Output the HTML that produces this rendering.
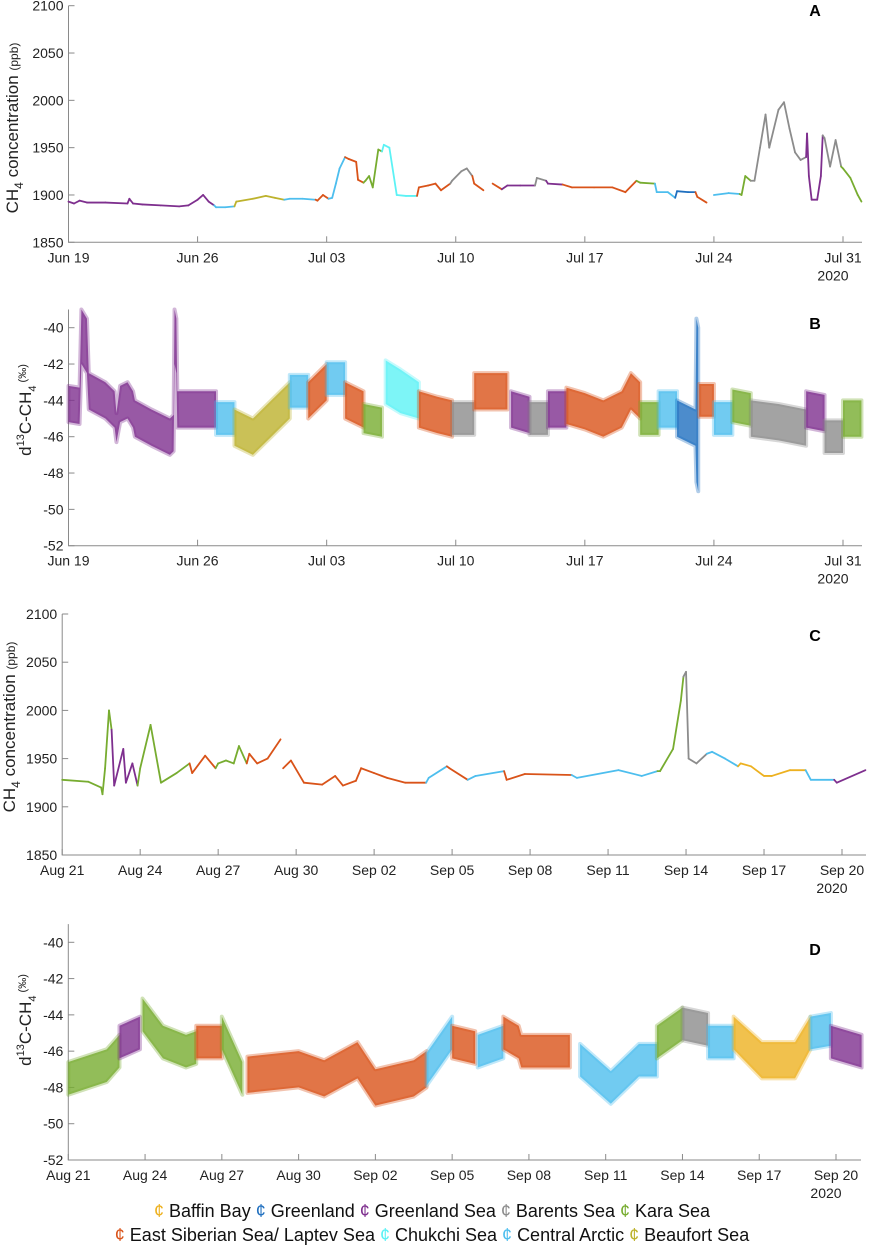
<!DOCTYPE html>
<html><head><meta charset="utf-8"><style>
body{margin:0;background:#fff;}
svg{display:block;font-family:"Liberation Sans",sans-serif;}
</style></head><body>
<svg id="c" width="870" height="1245" viewBox="0 0 870 1245">
<g><text transform="translate(18,128) rotate(-90)" text-anchor="middle" font-size="17" fill="#222">CH<tspan font-size="12" dy="5">4</tspan><tspan dy="-5"> concentration </tspan><tspan font-size="12">(ppb)</tspan></text></g>
<g><text transform="translate(31,410) rotate(-90)" text-anchor="middle" font-size="17" fill="#222">d<tspan font-size="11" dy="-7">13</tspan><tspan dy="7">C-CH</tspan><tspan font-size="11" dy="5">4</tspan><tspan font-size="11" dy="-10"> (‰)</tspan></text></g>
<g><text transform="translate(15,727) rotate(-90)" text-anchor="middle" font-size="17" fill="#222">CH<tspan font-size="12" dy="5">4</tspan><tspan dy="-5"> concentration </tspan><tspan font-size="12">(ppb)</tspan></text></g>
<g><text transform="translate(31,1020) rotate(-90)" text-anchor="middle" font-size="17" fill="#222">d<tspan font-size="11" dy="-7">13</tspan><tspan dy="7">C-CH</tspan><tspan font-size="11" dy="5">4</tspan><tspan font-size="11" dy="-10">    (‰)</tspan></text></g>
</svg>
<script>
const regionNames=["Baffin Bay","Greenland","Greenland Sea","Barents Sea","Kara Sea","East Siberian Sea/ Laptev Sea","Chukchi Sea","Central Arctic","Beaufort Sea"];
const regionColors=["#EDB120","#1F6FBF","#7E2F8E","#8C8C8C","#77AC30","#D95319","#5CF2F5","#4DBEEE","#BDB22D"];

// Panel A: CH4 ppb (days since Jun 19)
const aT=[0,0.3,0.6,1,2,3.2,3.3,3.5,4,5,6,6.5,7,7.3,7.6,7.9, 8.0,8.5,9.0, 9.1,10,10.7,11.2,11.7, 12,12.7,13.4, 13.5,13.8,14.1, 14.3,14.5,14.7,15, 15.2,15.6,15.7,16, 16.1,16.3,16.5,16.8,17.0, 17.1,17.4,17.8,18.3,18.9, 19.0,19.5,19.9,20.2,20.7, 20.8,21.3,21.6,21.9, 22.0,22.5, null, 23.0,23.5, 23.8,24.5,25.3, 25.4,25.9, 26.0,26.8, 27.3,28.5,29.5,30.2,30.8, 31.0,31.8, 31.9,32.5,32.9, 33.0,33.6,34.0, 34.1,34.6, null, 35.0,35.8,36.4, 36.5,36.7,37.0, 37.2,37.5,37.8,38.0,38.5,38.8,39.1,39.4,39.7,40.0, 40.05,40.15,40.3,40.6,40.8,40.9, 41.0,41.3,41.6,41.9, 42.0,42.4,42.8,43.0];
const aV=[1893,1891,1894,1892,1892,1891,1896,1891,1890,1889,1888,1889,1895,1900,1893,1889, 1887,1887,1888, 1893,1896,1899,1897,1895, 1896,1896,1895, 1894,1900,1896, 1897,1912,1928,1940, 1938,1935,1916,1913, 1915,1920,1908,1948,1946, 1953,1950,1900,1899,1899, 1908,1910,1912,1905,1912, 1915,1925,1928,1920, 1912,1905, null, 1912,1906, 1910,1910,1910, 1918,1915, 1912,1911, 1908,1908,1908,1903,1915, 1913,1912, 1903,1903,1897, 1904,1903,1903, 1898,1892, null, 1900,1902,1901, 1900,1920,1915, 1915,1950,1985,1950,1990,1998,1970,1945,1937,1940, 1965,1920,1895,1895,1920,1963, 1960,1930,1958,1930, 1928,1918,1900,1893];
const aR=[2,2,2,2,2,2,2,2,2,2,2,2,2,2,2,2, 7,7,7, 8,8,8,8,8, 7,7,7, 5,5,5, 7,7,7,7, 5,5,5,5, 4,4,4,4,4, 6,6,6,6,6, 5,5,5,5,5, 3,3,3,3, 5,5, 5, 5,5, 2,2,2, 3,3, 2,2, 5,5,5,5,5, 4,4, 7,7,7, 1,1,1, 5,5, 5, 7,7,7, 4,4,4, 3,3,3,3,3,3,3,3,3,3, 2,2,2,2,2,2, 3,3,3,3, 4,4,4,4];

// Panel B: d13C (mean, half-spread)
const bT=[0,0.6, 0.7,1.0, 1.1,2.0,2.5,2.6,2.8,3.2,3.5, 3.6,4.5,5.5,5.7, 5.75,5.85, 5.9,7,8, 8.0,9.0, 9.0,10,11,12, 12,13, 13,14, 14,15, 15,16, 16,17, 17.2,18,19, 19,20,20.8, 20.8,22, 22,23.8, 24,25, 25,26, 26,27, 27,28,29,30,30.5,31, 31,32, 32,33, 33,34, 34.05,34.15, 34.2,35, 35,36, 36,37, 37,38.5,40, 40,41, 41,42, 42,43];
const bV=[-44.2,-44.3, -40.5,-41, -43.5,-44,-44.5,-45.5,-44.2,-44,-44.5, -45,-45.5,-46,-45.8, -40.5,-41, -44.5,-44.5,-44.5, -45,-45, -45.5,-46,-45,-44, -43.5,-43.5, -44,-43, -42.8,-42.8, -44,-44.5, -45,-45.2, -43,-43.5,-44, -44.5,-44.8,-45, -45,-45, -43.5,-43.5, -44.5,-44.8, -45,-45, -44.5,-44.5, -44.3,-44.6,-45,-44.5,-43.5,-44, -45,-45, -44.5,-44.5, -45,-45.5, -44,-44.5, -44,-44, -45,-45, -44.3,-44.5, -45,-45.2,-45.5, -44.5,-44.7, -46,-46, -45,-45];
const bS=[1,1, 1.5,1.5, 1,1,1,0.8,1,1,1, 1,1,1,1, 1.5,1.5, 1,1,1, 0.9,0.9, 1,1,1,1, 0.9,0.9, 1,1, 0.9,0.9, 1,1, 0.8,0.8, 1.2,1.2,1, 1,1,1, 0.9,0.9, 1,1, 1,1, 0.9,0.9, 1,1, 1,1,1,1,1,1, 0.9,0.9, 1,1, 1,1, 4.5,4.5, 0.9,0.9, 0.9,0.9, 0.9,0.9, 1,1,1, 1,1, 0.9,0.9, 1,1];
const bR=[2,2, 2,2, 2,2,2,2,2,2,2, 2,2,2,2, 2,2, 2,2,2, 7,7, 8,8,8,8, 7,7, 5,5, 7,7, 5,5, 4,4, 6,6,6, 5,5,5, 3,3, 5,5, 2,2, 3,3, 2,2, 5,5,5,5,5,5, 4,4, 7,7, 1,1, 1,1, 5,5, 7,7, 4,4, 3,3,3, 2,2, 3,3, 4,4];

// Panel C: CH4 ppb (days since Aug 21)
const cT=[0,1,1.5,1.55,1.65,1.8,1.9, 2.0,2.35,2.45,2.7,2.9, 3.0,3.4,3.8,4.4,4.9, 5.0,5.5,5.9, 6.0,6.3,6.6,6.8,7.1, 7.2,7.5,7.9,8.4, null, 8.5,8.8,9.3,10.0,10.5,10.8,11.3, 11.5,12,12.5,13.2,14.0, 14.1,14.8, 14.9,15.6, 15.9,17.0, 17.1,17.8,19.6, 19.8,21.4,22.3,22.9, 23.0,23.5,23.8,23.9, 24.0,24.1,24.4,24.8, 25.0,25.5,26.0, 26.1,26.5,27.0,27.3,28.0,28.6, 28.8,29.7, 29.8,30.9];
const cV=[1928,1926,1920,1913,1940,2000,1980, 1922,1960,1925,1945,1922, 1940,1985,1925,1935,1945, 1935,1953,1940, 1945,1948,1945,1963,1945, 1955,1945,1950,1970, null, 1940,1948,1925,1923,1932,1922,1927, 1940,1935,1930,1925,1925, 1930,1942, 1940,1928, 1932,1937, 1928,1934,1933, 1930,1938,1932,1937, 1937,1960,2010,2035, 2040,1950,1945,1955, 1957,1950,1942, 1945,1942,1932,1932,1938,1938, 1928,1928, 1925,1938];
const cR=[4,4,4,4,4,4,4, 2,2,2,2,2, 4,4,4,4,4, 5,5,5, 4,4,4,4,4, 5,5,5,5, 5, 5,5,5,5,5,5,5, 5,5,5,5,5, 7,7, 5,5, 7,7, 5,5,5, 7,7,7,7, 4,4,4,4, 3,3,3,3, 7,7,7, 0,0,0,0,0,0, 7,7, 2,2];

// Panel D: d13C (days since Aug 21)
const dT=[0,1.5,2.0, 2.0,2.8, 2.9,3.7,4.6,5.0, 5.0,6.0, 6.0,6.8, 7.0,9.0,10.0,11.3,12.0,13.5,14.0, 14.0,15.0, 15.0,15.9, 16.0,17.0, 17.0,17.6, 17.7,19.6, 20.0,21.2,22.3,23.0, 23.0,24.0, 24.0,25.0, 25.0,26.0, 26.0,27.1,28.4,29.0, 29.0,29.8, 29.8,31.0];
const dV=[-47.5,-46.8,-46, -45.5,-45, -44,-45.5,-46,-45.8, -45.5,-45.5, -45,-47.5, -47.3,-47,-47.5,-46.5,-48,-47.5,-47, -47,-45, -45.5,-45.8, -46,-45.5, -45,-45.5, -46,-46, -46.5,-48,-46.5,-46.5, -45.5,-44.5, -44.5,-44.8, -45.5,-45.5, -45,-46.5,-46.5,-45, -45,-44.8, -45.5,-46];
const dS=[0.9,0.9,0.9, 0.9,0.9, 0.9,0.9,0.9,0.9, 0.9,0.9, 0.9,0.9, 1,1,1,1,1,1,1, 0.9,0.9, 0.9,0.9, 0.9,0.9, 0.9,0.9, 0.9,0.9, 0.9,0.9,0.9,0.9, 0.9,0.9, 0.9,0.9, 0.9,0.9, 0.9,1,1,0.9, 0.9,0.9, 0.9,0.9];
const dR=[4,4,4, 2,2, 4,4,4,4, 5,5, 4,4, 5,5,5,5,5,5,5, 7,7, 5,5, 7,7, 5,5, 5,5, 7,7,7,7, 4,4, 3,3, 7,7, 0,0,0,0, 7,7, 2,2];

const tickA=["Jun 19","Jun 26","Jul 03","Jul 10","Jul 17","Jul 24","Jul 31"];
const tickC=["Aug 21","Aug 24","Aug 27","Aug 30","Sep 02","Sep 05","Sep 08","Sep 11","Sep 14","Sep 17","Sep 20"];
const yTicksCH4=[1850,1900,1950,2000,2050,2100];
const yTicksD13=[-52,-50,-48,-46,-44,-42,-40];

const NS="http://www.w3.org/2000/svg";
const svg=document.getElementById('c');
function mk(tag,attrs,parent){const e=document.createElementNS(NS,tag);for(const k in attrs)e.setAttribute(k,attrs[k]);(parent||svg).appendChild(e);return e;}

function panel(cfg){
  const g=mk('g',{});
  
  
  const x=d=>cfg.x0+(d-cfg.d0)*(cfg.x1-cfg.x0)/(cfg.d1-cfg.d0);
  const y=v=>cfg.yb+(v-cfg.vmin)*(cfg.yt0-cfg.yb)/(cfg.vt0-cfg.vmin);
  const top=y(cfg.vmax);
  const ax=mk('path',{d:`M${cfg.x0},${top}V${cfg.yb}H${cfg.xr}`,stroke:'#8a8a8a','stroke-width':1,fill:'none'},g);
  
  
  cfg.yticks.forEach(v=>{
    mk('line',{x1:cfg.x0,x2:cfg.x0+6,y1:y(v),y2:y(v),stroke:'#8a8a8a'},g);
    const t=mk('text',{x:cfg.x0-5,y:y(v)+5,'text-anchor':'end','font-size':14,fill:'#222'},g);
    t.textContent=v;
    
    
  });
  cfg.xlabels.forEach((lab,i)=>{
    const d=cfg.d0+i*cfg.step;
    mk('line',{x1:x(d),x2:x(d),y1:cfg.yb,y2:cfg.yb-6,stroke:'#8a8a8a'},g);
    const t=mk('text',{x:x(d),y:cfg.yb+20,'text-anchor':'middle','font-size':14,fill:'#222'},g);
    t.textContent=lab;
    
    
  });
  const yr=mk('text',{x:x(cfg.d1)-10,y:cfg.yb+38,'text-anchor':'middle','font-size':14,fill:'#222'},g);
  yr.textContent='2020';
  
  
  const pl=mk('text',{x:815,y:cfg.labelY,'text-anchor':'middle','font-size':16,'font-weight':'bold',fill:'#000'},g);
  pl.textContent=cfg.letter;
  
  
  return {g,x,y};
}

function drawLine(p,T,V,R){
  let prev=null;
  for(let i=0;i<T.length;i++){
    if(T[i]===null||V[i]===null){prev=null;continue;}
    if(prev!==null){
      const ln=mk('line',{x1:p.x(T[prev]),y1:p.y(V[prev]),x2:p.x(T[i]),y2:p.y(V[i]),stroke:regionColors[R[i]],'stroke-width':1.8,'stroke-linecap':'round'},p.g);
      
      
    }
    prev=i;
  }
}
function drawBand(p,T,V,S,R){
  let i=0;
  while(i<T.length){
    let j=i;
    while(j+1<T.length&&R[j+1]===R[i]&&T[j+1]>=T[j]&&!(T[j+1]===T[j]&&j>i))j++;
    const up=[],lo=[];
    for(let k=i;k<=j;k++){up.push(p.x(T[k])+','+p.y(V[k]+S[k]));lo.unshift(p.x(T[k])+','+p.y(V[k]-S[k]));}
    if(j===i){up.push((p.x(T[i])+2)+','+p.y(V[i]+S[i]));lo.unshift((p.x(T[i])+2)+','+p.y(V[i]-S[i]));}
    const pg=mk('polygon',{points:up.concat(lo).join(' '),fill:regionColors[R[i]],'fill-opacity':0.8,stroke:regionColors[R[i]],'stroke-width':4,'stroke-opacity':0.35,'stroke-linejoin':'round'},p.g);
    
    
    i=j+1;
  }
}

const pA=panel({name:'panel-a-ch4',x0:68.5,x1:843,d0:0,d1:42,xr:862,step:7,yb:242.3,vmin:1850,yt0:5.7,vt0:2100,vmax:2100,yticks:yTicksCH4,xlabels:tickA,letter:'A',labelY:16});
drawLine(pA,aT,aV,aR);
const pB=panel({name:'panel-b-d13c',x0:68.5,x1:843,d0:0,d1:42,xr:862,step:7,yb:545.7,vmin:-52,yt0:327.7,vt0:-40,vmax:-39,yticks:yTicksD13,xlabels:tickA,letter:'B',labelY:329});
drawBand(pB,bT,bV,bS,bR);
const pC=panel({name:'panel-c-ch4',x0:62.2,x1:842,d0:0,d1:30,xr:866,step:3,yb:855,vmin:1850,yt0:614,vt0:2100,vmax:2100,yticks:yTicksCH4,xlabels:tickC,letter:'C',labelY:641});
drawLine(pC,cT,cV,cR);
const pD=panel({name:'panel-d-d13c',x0:68.3,x1:836,d0:0,d1:30,xr:861,step:3,yb:1160,vmin:-52,yt0:942.3,vt0:-40,vmax:-39,yticks:yTicksD13,xlabels:tickC,letter:'D',labelY:955});
drawBand(pD,dT,dV,dS,dR);

const leg1=[0,1,2,3,4], leg2=[5,6,7,8];
function legendRow(items,yy){
  const t=mk('text',{x:432,y:yy,'text-anchor':'middle','font-size':18,fill:'#111'});
  
  
  items.forEach((r,i)=>{
    const s=mk('tspan',{fill:regionColors[r]},t);s.textContent=(i?' ':'')+'¢ ';
    
    
    const n=mk('tspan',{fill:'#111'},t);n.textContent=regionNames[r];
    
    
  });
}
legendRow(leg1,1217);
legendRow(leg2,1241);
</script>
</body></html>
